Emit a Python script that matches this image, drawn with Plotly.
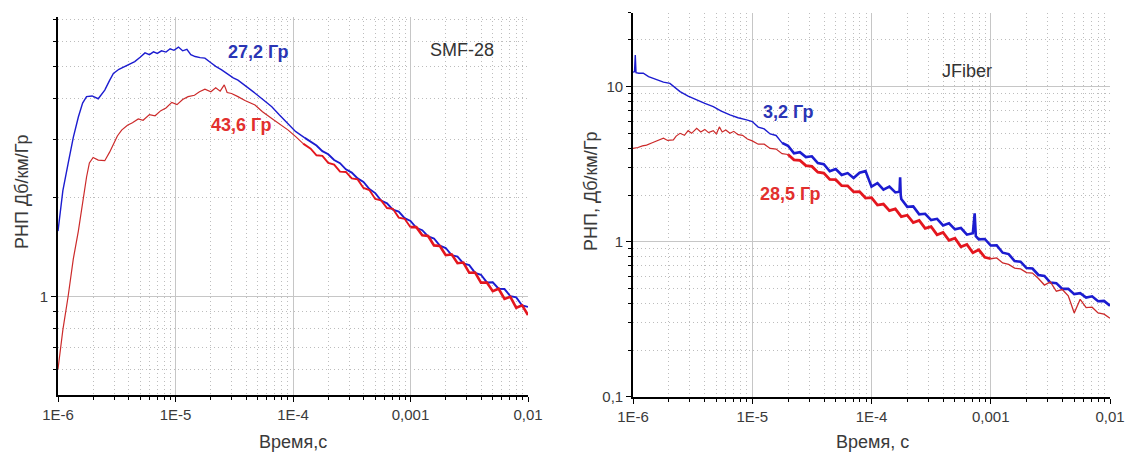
import plotly.graph_objects as go

# ---------------- data ----------------
# Left panel: SMF-28
SMF_BLUE_T = [1.0e-6, 1.1e-6, 1.22e-6, 1.35e-6, 1.49e-6, 1.62e-6, 1.75e-6, 1.95e-6, 2.2e-6, 2.5e-6,
              2.75e-6, 2.96e-6, 3.3e-6, 3.7e-6, 4.1e-6, 4.5e-6, 5.0e-6, 5.5e-6, 6.0e-6, 6.5e-6,
              7.0e-6, 7.6e-6, 8.3e-6, 9.0e-6, 9.7e-6, 1.06e-5, 1.15e-5, 1.25e-5, 1.35e-5, 1.47e-5,
              1.62e-5, 1.78e-5, 2.0e-5, 2.2e-5, 2.47e-5, 2.8e-5, 3.1e-5, 3.4e-5, 3.9e-5, 4.4e-5,
              5.0e-5, 5.7e-5, 6.6e-5, 7.6e-5, 9.1e-5, 1.05e-4, 1.26e-4,
              1.413e-4, 1.585e-4, 1.778e-4, 1.995e-4, 2.239e-4, 2.512e-4, 2.818e-4, 3.162e-4,
              3.548e-4, 3.981e-4, 4.467e-4, 5.012e-4, 5.623e-4, 6.310e-4, 7.079e-4, 7.943e-4,
              8.913e-4, 1.000e-3, 1.122e-3, 1.259e-3, 1.413e-3, 1.585e-3, 1.778e-3, 1.995e-3,
              2.239e-3, 2.512e-3, 2.818e-3, 3.162e-3, 3.548e-3, 3.981e-3, 4.467e-3, 5.012e-3,
              5.623e-3, 6.310e-3, 7.079e-3, 7.943e-3, 8.913e-3, 1.000e-2]
SMF_BLUE_V = [1.58, 2.1, 2.54, 3.05, 3.52, 3.88, 4.06, 4.08, 4.0, 4.25,
              4.55, 4.78, 4.92, 5.02, 5.1, 5.19, 5.35, 5.52, 5.45, 5.56,
              5.5, 5.6, 5.55, 5.68, 5.62, 5.75, 5.6, 5.66, 5.45, 5.38,
              5.34, 5.32, 5.15, 5.02, 4.90, 4.74, 4.63, 4.56, 4.38, 4.25,
              4.10, 3.95, 3.78, 3.58, 3.36, 3.18, 3.04,
              2.960, 2.881, 2.770, 2.709, 2.603, 2.545, 2.438, 2.382,
              2.287, 2.231, 2.123, 2.063, 1.958, 1.920, 1.837, 1.811,
              1.730, 1.696, 1.617, 1.590, 1.521, 1.500, 1.427, 1.403,
              1.335, 1.321, 1.259, 1.244, 1.178, 1.163, 1.102, 1.103,
              1.054, 1.052, 1.000, 0.992, 0.937, 0.928]

SMF_RED_T = [1.0e-6, 1.1e-6, 1.22e-6, 1.35e-6, 1.49e-6, 1.62e-6, 1.75e-6, 1.85e-6, 1.99e-6, 2.2e-6,
             2.5e-6, 2.75e-6, 2.96e-6, 3.2e-6, 3.48e-6, 3.9e-6, 4.3e-6, 4.82e-6, 5.3e-6, 6.0e-6,
             6.7e-6, 7.5e-6, 8.3e-6, 9.3e-6, 1.03e-5, 1.15e-5, 1.28e-5, 1.45e-5, 1.6e-5, 1.78e-5,
             2.0e-5, 2.2e-5, 2.4e-5, 2.6e-5, 2.75e-5, 3.0e-5, 3.4e-5, 3.9e-5, 4.75e-5, 5.5e-5,
             6.6e-5, 7.8e-5, 9.1e-5, 1.06e-4, 1.22e-4,
             1.413e-4, 1.585e-4, 1.778e-4, 1.995e-4, 2.239e-4, 2.512e-4, 2.818e-4, 3.162e-4,
             3.548e-4, 3.981e-4, 4.467e-4, 5.012e-4, 5.623e-4, 6.310e-4, 7.079e-4, 7.943e-4,
             8.913e-4, 1.000e-3, 1.122e-3, 1.259e-3, 1.413e-3, 1.585e-3, 1.778e-3, 1.995e-3,
             2.239e-3, 2.512e-3, 2.818e-3, 3.162e-3, 3.548e-3, 3.981e-3, 4.467e-3, 5.012e-3,
             5.623e-3, 6.310e-3, 7.079e-3, 7.943e-3, 8.913e-3, 1.000e-2]
SMF_RED_V = [0.60, 0.79, 1.0, 1.3, 1.58, 1.95, 2.31, 2.55, 2.65, 2.6,
             2.59, 2.75, 2.92, 3.08, 3.21, 3.32, 3.38, 3.47, 3.44, 3.58,
             3.55, 3.68, 3.75, 3.9, 3.84, 3.98, 4.06, 4.1, 4.2, 4.28,
             4.2, 4.32, 4.22, 4.41, 4.18, 4.15, 4.06, 3.95, 3.83, 3.65,
             3.48, 3.33, 3.21, 3.06, 2.92,
             2.818, 2.690, 2.679, 2.551, 2.518, 2.398, 2.393, 2.288,
             2.272, 2.139, 2.108, 1.979, 1.960, 1.858, 1.848, 1.737,
             1.723, 1.624, 1.624, 1.535, 1.526, 1.429, 1.423, 1.334,
             1.342, 1.261, 1.267, 1.179, 1.181, 1.100, 1.101, 1.036,
             1.054, 0.981, 0.996, 0.922, 0.938, 0.876]

# Right panel: JFiber
JF_BLUE_T = [1.0e-6, 1.03e-6, 1.045e-6, 1.06e-6, 1.12e-6, 1.22e-6, 1.35e-6, 1.58e-6, 1.8e-6, 2.04e-6,
             2.25e-6, 2.48e-6, 2.9e-6, 3.42e-6, 4.0e-6, 4.71e-6, 5.5e-6, 6.5e-6, 7.6e-6, 8.97e-6,
             1.000e-5, 1.122e-5, 1.259e-5, 1.413e-5, 1.585e-5, 1.778e-5, 1.995e-5, 2.239e-5,
             2.512e-5, 2.818e-5, 3.162e-5, 3.548e-5, 3.981e-5, 4.467e-5, 5.012e-5, 5.623e-5,
             6.310e-5, 7.079e-5, 7.943e-5, 8.913e-5, 1.000e-4, 1.122e-4, 1.259e-4, 1.413e-4,
             1.585e-4, 1.718e-4, 1.738e-4, 1.758e-4, 1.778e-4, 1.995e-4, 2.239e-4, 2.512e-4,
             2.818e-4, 3.162e-4, 3.548e-4, 3.981e-4, 4.467e-4, 5.012e-4, 5.623e-4, 6.310e-4,
             7.079e-4, 7.328e-4, 7.499e-4, 7.943e-4, 8.913e-4, 1.000e-3, 1.122e-3, 1.259e-3,
             1.413e-3, 1.585e-3, 1.778e-3, 1.995e-3, 2.239e-3, 2.512e-3, 2.818e-3, 3.162e-3,
             3.548e-3, 3.981e-3, 4.467e-3, 5.012e-3, 5.623e-3, 6.310e-3, 7.079e-3, 7.943e-3,
             8.913e-3, 1.000e-2]
JF_BLUE_V = [12.4, 12.5, 16.0, 12.3, 12.2, 12.2, 11.6, 11.05, 10.7, 10.5,
             9.9, 9.29, 8.7, 8.2, 7.8, 7.43, 6.95, 6.57, 6.3, 6.1,
             5.957, 5.483, 5.340, 4.955, 4.842, 4.341, 4.159, 3.715,
             3.780, 3.516, 3.556, 3.218, 3.162, 2.844, 2.944, 2.692,
             2.770, 2.576, 2.786, 2.851, 2.265, 2.385, 2.163, 2.265,
             2.078, 2.1, 2.6, 2.0, 1.884, 1.679, 1.689, 1.500,
             1.514, 1.377, 1.404, 1.274, 1.315, 1.202, 1.225, 1.110,
             1.135, 1.524, 1.084, 1.035, 1.041, 0.944, 0.946, 0.849,
             0.832, 0.750, 0.743, 0.676, 0.671, 0.610, 0.601, 0.545,
             0.540, 0.496, 0.497, 0.459, 0.465, 0.436, 0.444, 0.413,
             0.415, 0.386]

JF_RED_T = [1.0e-6, 1.1e-6, 1.2e-6, 1.3e-6, 1.45e-6, 1.6e-6, 1.8e-6, 1.95e-6, 2.18e-6, 2.3e-6,
            2.48e-6, 2.7e-6, 2.9e-6, 3.1e-6, 3.42e-6, 3.7e-6, 4.0e-6, 4.3e-6, 4.71e-6, 5.0e-6,
            5.3e-6, 5.6e-6, 6.0e-6, 6.5e-6, 7.0e-6, 7.6e-6, 8.3e-6, 9.1e-6,
            1.000e-5, 1.122e-5, 1.259e-5, 1.413e-5, 1.585e-5, 1.778e-5, 1.995e-5, 2.239e-5,
            2.512e-5, 2.818e-5, 3.162e-5, 3.548e-5, 3.981e-5, 4.467e-5, 5.012e-5, 5.623e-5,
            6.310e-5, 7.079e-5, 7.943e-5, 8.913e-5, 1.000e-4, 1.122e-4, 1.259e-4, 1.413e-4,
            1.585e-4, 1.778e-4, 1.995e-4, 2.239e-4, 2.512e-4, 2.818e-4, 3.162e-4, 3.548e-4,
            3.981e-4, 4.467e-4, 5.012e-4, 5.623e-4, 6.310e-4, 7.079e-4, 7.943e-4, 8.913e-4,
            1.000e-3, 1.122e-3, 1.259e-3, 1.413e-3, 1.585e-3, 1.778e-3, 1.995e-3, 2.239e-3,
            2.512e-3, 2.818e-3, 3.162e-3, 3.548e-3, 3.981e-3, 4.467e-3, 5.012e-3, 5.623e-3,
            6.310e-3, 7.079e-3, 7.943e-3, 8.913e-3, 1.000e-2]
JF_RED_V = [4.0, 4.05, 4.15, 4.2, 4.35, 4.5, 4.65, 4.5, 4.53, 4.8,
            5.0, 4.85, 5.2, 5.0, 5.39, 5.1, 5.3, 5.05, 5.2, 4.95,
            5.5, 5.1, 5.25, 5.0, 5.15, 4.9, 4.85, 4.6,
            4.467, 4.256, 4.256, 3.999, 3.954, 3.694, 3.652, 3.373,
            3.342, 3.097, 3.058, 2.805, 2.770, 2.523, 2.512, 2.296,
            2.293, 2.094, 2.104, 1.912, 1.923, 1.722, 1.748, 1.585,
            1.629, 1.452, 1.481, 1.326, 1.371, 1.220, 1.252, 1.109,
            1.148, 1.020, 1.052, 0.927, 0.959, 0.849, 0.886, 0.793,
            0.776, 0.785, 0.729, 0.713, 0.675, 0.668, 0.632, 0.627,
            0.579, 0.525, 0.551, 0.479, 0.491, 0.447, 0.347, 0.425,
            0.376, 0.378, 0.347, 0.341, 0.321]

X_TICKS = [1e-6, 1e-5, 1e-4, 1e-3, 1e-2]
X_TICKTEXT = ["1E-6", "1E-5", "1E-4", "0,001", "0,01"]
Y1_TICKS = [1]
Y1_TICKTEXT = ["1"]
Y2_TICKS = [0.1, 1, 10]
Y2_TICKTEXT = ["0,1", "1", "10"]

BLUE = "#1c1cd0"
RED = "#e4161e"
DARKRED = "#cc2a2a"
FONT = "Liberation Sans, Arial, sans-serif"

X_MINOR = [m * d for d in [1e-6, 1e-5, 1e-4, 1e-3] for m in range(2, 10)]
Y1_MINOR = [0.6, 0.7, 0.8, 0.9, 2, 3, 4, 5, 6, 7]
Y2_MINOR = [m * d for d in [0.1, 1] for m in range(2, 10)] + [20, 30]


def seg(ts, vs, lo, hi):
    pairs = [(t, v) for t, v in zip(ts, vs) if lo <= t <= hi]
    return [p[0] for p in pairs], [p[1] for p in pairs]


fig = go.Figure()


def add(ts, vs, lo, hi, color, width, xa, ya):
    x, y = seg(ts, vs, lo, hi)
    fig.add_trace(go.Scatter(x=x, y=y, mode="lines", xaxis=xa, yaxis=ya,
                             line=dict(color=color, width=width), hoverinfo="x+y"))


# SMF-28
add(SMF_BLUE_T, SMF_BLUE_V, 0, 1.3e-4, BLUE, 1.4, "x", "y")
add(SMF_BLUE_T, SMF_BLUE_V, 1.26e-4, 1, BLUE, 1.9, "x", "y")
add(SMF_RED_T, SMF_RED_V, 0, 1.3e-4, DARKRED, 1.2, "x", "y")
add(SMF_RED_T, SMF_RED_V, 1.22e-4, 1.0e-3, RED, 1.9, "x", "y")
add(SMF_RED_T, SMF_RED_V, 1.0e-3, 1, RED, 2.6, "x", "y")
# JFiber
add(JF_BLUE_T, JF_BLUE_V, 0, 1.8e-5, BLUE, 1.4, "x2", "y2")
add(JF_BLUE_T, JF_BLUE_V, 1.778e-5, 1, BLUE, 2.6, "x2", "y2")
add(JF_RED_T, JF_RED_V, 0, 2.0e-5, DARKRED, 1.2, "x2", "y2")
add(JF_RED_T, JF_RED_V, 1.995e-5, 1.0e-3, RED, 2.8, "x2", "y2")
add(JF_RED_T, JF_RED_V, 1.0e-3, 1, DARKRED, 1.3, "x2", "y2")


def axis_common(tv, tt, minor):
    return dict(type="log", tickmode="array", tickvals=tv, ticktext=tt,
                ticks="outside", ticklen=5, tickwidth=1.2, tickcolor="black",
                showline=True, linecolor="black", linewidth=1.6, automargin=False,
                showgrid=True, gridcolor="#c6c6c6", gridwidth=1, zeroline=False,
                tickfont=dict(family=FONT, size=15, color="#3a3a3a"),
                minor=dict(tickmode="array", tickvals=minor, ticks="outside", ticklen=3,
                           tickwidth=1, tickcolor="black", showgrid=True,
                           gridcolor="#bdbdbd", griddash="1px,3px", gridwidth=1))


W, H = 1127, 454


def px(x):
    return x / W


def py(y):
    return 1 - y / H


xa1 = axis_common(X_TICKS, X_TICKTEXT, X_MINOR)
xa1.update(range=[-6, -2], domain=[px(58), px(528)], anchor="y")
ya1 = axis_common(Y1_TICKS, Y1_TICKTEXT, Y1_MINOR)
ya1.update(range=[-0.30103, 0.8513], domain=[py(395), py(17)], anchor="x")
xa2 = axis_common(X_TICKS, X_TICKTEXT, X_MINOR)
xa2.update(range=[-6, -2], domain=[px(633), px(1110)], anchor="y2")
ya2 = axis_common(Y2_TICKS, Y2_TICKTEXT, Y2_MINOR)
ya2.update(range=[-1, 1.4771], domain=[py(396.7), py(12.7)], anchor="x2")

fig.update_layout(
    width=W, height=H, margin=dict(l=0, r=0, t=0, b=0, autoexpand=False),
    paper_bgcolor="white", plot_bgcolor="white", showlegend=False,
    xaxis=xa1, yaxis=ya1, xaxis2=xa2, yaxis2=ya2,
)


def note(text, x, y, color="#333333", size=18, bold=False, angle=0):
    fig.add_annotation(text=f"<b>{text}</b>" if bold else text, x=px(x), y=py(y),
                       xref="paper", yref="paper", showarrow=False, textangle=angle,
                       xanchor="center", yanchor="middle",
                       font=dict(family=FONT, size=size, color=color))


note("27,2 Гр", 258, 52, color="#2a35b5", bold=True)
note("43,6 Гр", 241, 125, color="#e2302e", bold=True)
note("SMF-28", 462, 50, color="#333333")
note("3,2 Гр", 788, 112, color="#2a35b5", bold=True)
note("28,5 Гр", 790, 194, color="#e2302e", bold=True)
note("JFiber", 967, 71, color="#333333")
note("Время,с", 293, 442, color="#3a3a3a")
note("Время, с", 872, 442, color="#3a3a3a")
note("РНП Дб/км/Гр", 22, 192, color="#3a3a3a", angle=-90)
note("РНП, Дб/км/Гр", 591, 192, color="#3a3a3a", angle=-90)

fig.write_html("out.html")
